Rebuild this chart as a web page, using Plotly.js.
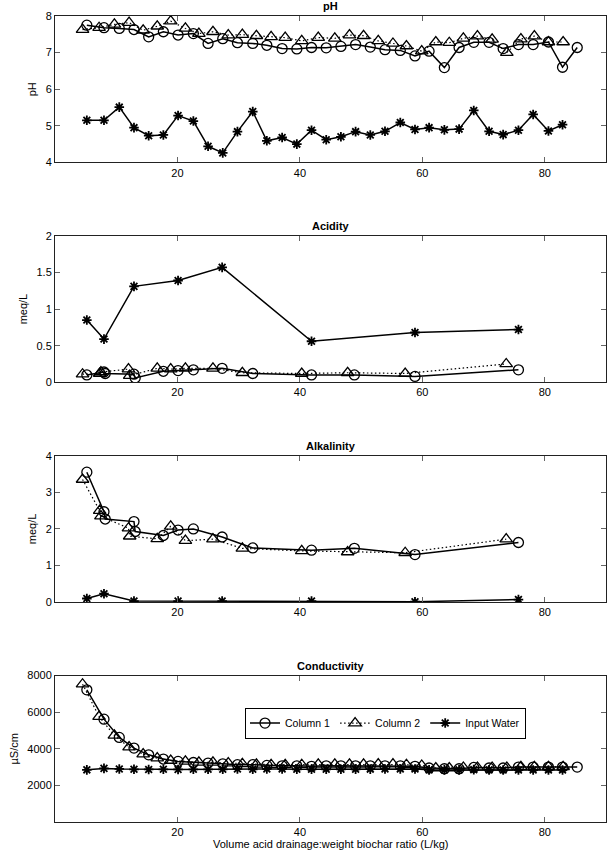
<!DOCTYPE html>
<html><head><meta charset="utf-8">
<script src="https://cdn.plot.ly/plotly-3.0.1.min.js"></script>
<style>html,body{margin:0;padding:0;background:#fff}#chart{width:608px;height:852px}</style>
</head><body><div id="chart"></div>
<script>
// ---- pH panel ----
const phX1 = [5.2, 8.0, 10.5, 12.9, 15.3, 17.7, 20.1, 22.6, 25.0, 27.4, 29.8, 32.3, 34.6, 37.1, 39.5, 41.9, 44.3, 46.7, 49.1, 51.5, 53.9, 56.4, 58.8, 61.1, 63.6, 66.0, 68.4, 70.9, 73.2, 75.7, 78.1, 80.6, 82.9, 85.3];
const phY1 = [7.75, 7.68, 7.66, 7.63, 7.43, 7.57, 7.48, 7.52, 7.25, 7.38, 7.27, 7.25, 7.20, 7.11, 7.10, 7.14, 7.13, 7.17, 7.22, 7.15, 7.08, 7.06, 6.91, 7.04, 6.59, 7.14, 7.28, 7.28, 7.11, 7.22, 7.22, 7.29, 6.60, 7.14];
const phX2 = [4.5, 7.2, 9.7, 12.1, 14.4, 16.7, 18.9, 21.3, 23.5, 25.8, 28.3, 30.6, 32.9, 35.3, 37.6, 40.3, 43.0, 45.7, 48.1, 50.4, 52.8, 55.2, 57.4, 59.9, 62.2, 64.4, 66.7, 69.0, 71.4, 73.8, 76.1, 78.3, 80.6, 83.0];
const phY2 = [7.63, 7.68, 7.77, 7.82, 7.61, 7.72, 7.86, 7.66, 7.52, 7.57, 7.48, 7.49, 7.46, 7.43, 7.41, 7.32, 7.41, 7.39, 7.48, 7.46, 7.32, 7.25, 7.18, 7.04, 7.29, 7.27, 7.39, 7.45, 7.36, 7.00, 7.37, 7.45, 7.29, 7.29];
const phX3 = [5.2, 8.0, 10.5, 12.9, 15.3, 17.7, 20.1, 22.6, 25.0, 27.4, 29.8, 32.3, 34.6, 37.1, 39.5, 41.9, 44.3, 46.7, 49.1, 51.5, 53.9, 56.4, 58.8, 61.1, 63.6, 66.0, 68.4, 70.9, 73.2, 75.7, 78.1, 80.6, 82.9];
const phY3 = [5.15, 5.15, 5.51, 4.95, 4.73, 4.75, 5.28, 5.13, 4.44, 4.26, 4.84, 5.39, 4.59, 4.68, 4.50, 4.88, 4.62, 4.70, 4.84, 4.75, 4.85, 5.09, 4.90, 4.95, 4.89, 4.91, 5.42, 4.85, 4.76, 4.88, 5.31, 4.86, 5.03];

// ---- Acidity / Alkalinity sampling points ----
const chemX1 = [5.2, 8.0, 8.2, 12.9, 13.1, 17.7, 20.1, 22.6, 27.3, 32.3, 41.9, 48.9, 58.8, 75.7];
const chemX2 = [4.5, 7.3, 7.5, 12.0, 12.2, 16.7, 18.9, 21.3, 25.8, 30.6, 40.3, 47.8, 57.2, 73.7];
const chemX3 = [5.2, 8.0, 12.9, 20.1, 27.3, 41.9, 58.8, 75.7];

const acidY1 = [0.10, 0.14, 0.12, 0.11, 0.06, 0.15, 0.16, 0.17, 0.19, 0.12, 0.10, 0.10, 0.08, 0.17];
const acidY2 = [0.11, 0.12, 0.14, 0.18, 0.09, 0.19, 0.18, 0.19, 0.19, 0.13, 0.12, 0.13, 0.12, 0.25];
const acidY3 = [0.85, 0.59, 1.31, 1.39, 1.57, 0.56, 0.68, 0.72];

const alkY1 = [3.55, 2.47, 2.27, 2.20, 1.93, 1.82, 1.97, 2.00, 1.78, 1.48, 1.42, 1.47, 1.30, 1.63];
const alkY2 = [3.35, 2.50, 2.35, 2.02, 1.80, 1.73, 2.07, 1.68, 1.72, 1.47, 1.40, 1.37, 1.35, 1.72];
const alkY3 = [0.10, 0.23, 0.03, 0.03, 0.03, 0.03, 0.01, 0.07];

// ---- Conductivity (same x as pH) ----
const condY1 = [7220, 5620, 4620, 4040, 3670, 3440, 3310, 3250, 3220, 3180, 3130, 3130, 3090, 3070, 3070, 3040, 3070, 3070, 3070, 3070, 3070, 3070, 3040, 2950, 2910, 2910, 2980, 2950, 2950, 3000, 3000, 3000, 3000, 3000];
const condY2 = [7530, 5760, 4730, 4090, 3710, 3490, 3360, 3310, 3260, 3260, 3220, 3180, 3150, 3130, 3130, 3130, 3150, 3150, 3150, 3150, 3160, 3160, 3130, 3090, 2950, 2950, 2980, 2980, 2980, 2980, 3020, 3020, 3020, 3020];
const condY3 = [2850, 2930, 2900, 2880, 2870, 2880, 2870, 2880, 2880, 2880, 2900, 2880, 2900, 2900, 2880, 2880, 2880, 2880, 2880, 2890, 2900, 2900, 2900, 2850, 2850, 2850, 2860, 2850, 2840, 2840, 2840, 2840, 2840];

const seriesNames = ['Column 1', 'Column 2', 'Input Water'];
const panelTitles = ['pH', 'Acidity', 'Alkalinity', 'Conductivity'];
const yTitles = ['pH', 'meq/L', 'meq/L', 'µS/cm'];
const xTicks = [20, 40, 60, 80];
const yTicks = [[4, 5, 6, 7, 8], [0, 0.5, 1, 1.5, 2], [0, 1, 2, 3, 4], [2000, 4000, 6000, 8000]];
const yRanges = [[4, 8], [0, 2], [0, 4], [0, 8000]];

const FONT = 'Liberation Sans, Arial, Helvetica, sans-serif';
const styles = [
  {sym: 'circle-open', dash: 'solid', w: 1.5, size: 10, mw: 1.3},
  {sym: 'triangle-up-open', dash: '1.5px,2.5px', w: 1.2, size: 11, mw: 1.3},
  {sym: 'asterisk-open', dash: 'solid', w: 1.5, size: 8, mw: 1.8}
];
function tr(x, y, s, panel) {
  const st = styles[s];
  const ax = panel === 0 ? '' : String(panel + 1);
  return {
    x: x, y: y, type: 'scatter', mode: 'lines+markers',
    name: seriesNames[s], showlegend: panel === 3, legendgroup: 'g' + s,
    xaxis: 'x' + ax, yaxis: 'y' + ax,
    line: {color: '#000', width: st.w, dash: st.dash},
    marker: {symbol: st.sym, size: st.size, color: '#000', line: {color: '#000', width: st.mw}}
  };
}
const data = [
  tr(phX1, phY1, 0, 0), tr(phX2, phY2, 1, 0), tr(phX3, phY3, 2, 0),
  tr(chemX1, acidY1, 0, 1), tr(chemX2, acidY2, 1, 1), tr(chemX3, acidY3, 2, 1),
  tr(chemX1, alkY1, 0, 2), tr(chemX2, alkY2, 1, 2), tr(chemX3, alkY3, 2, 2),
  tr(phX1, condY1, 0, 3), tr(phX2, condY2, 1, 3), tr(phX3, condY3, 2, 3)
];

const T = 16, B = 29.5, H = 852;
const plotH = H - T - B;
const tops = [16, 236, 456, 676];
const panelH = 146.5;
function frac(pix) { return (H - B - pix) / plotH; }

const layout = {
  width: 608, height: 852,
  margin: {l: 55, r: 2, t: T, b: B},
  paper_bgcolor: '#fff', plot_bgcolor: '#fff',
  font: {family: FONT, size: 11, color: '#000'},
  showlegend: true,
  legend: {
    orientation: 'h', x: (245 - 55) / 551, y: frac(708), xanchor: 'left', yanchor: 'top',
    bordercolor: '#000', borderwidth: 1, bgcolor: '#fff',
    font: {family: FONT, size: 10.5, color: '#000'},
    itemwidth: 30, tracegroupgap: 0
  },
  annotations: []
};
for (let i = 0; i < 4; i++) {
  const ax = i === 0 ? '' : String(i + 1);
  const dom = [frac(tops[i] + panelH), frac(tops[i])];
  layout['xaxis' + ax] = {
    domain: [0, 1], anchor: 'y' + ax, range: [0, 90],
    tickvals: xTicks, ticktext: xTicks.map(String),
    ticks: 'inside', ticklen: 5, tickcolor: '#666', tickwidth: 1,
    showline: true, linecolor: '#222', linewidth: 1, mirror: 'ticks',
    showgrid: false, zeroline: false,
    tickfont: {family: FONT, size: 11, color: '#000'}
  };
  layout['yaxis' + ax] = {
    domain: dom, anchor: 'x' + ax, range: yRanges[i],
    tickvals: yTicks[i], ticktext: yTicks[i].map(String),
    ticks: 'inside', ticklen: 5, tickcolor: '#666', tickwidth: 1,
    showline: true, linecolor: '#222', linewidth: 1, mirror: 'ticks',
    showgrid: false, zeroline: false,
    tickfont: {family: FONT, size: 11, color: '#000'},
    title: {text: yTitles[i], font: {family: FONT, size: 11, color: '#000'}, standoff: 6}
  };
  layout.annotations.push({
    text: '<b>' + panelTitles[i] + '</b>', xref: 'paper', yref: 'paper',
    x: 0.5, y: frac(tops[i] - 10), xanchor: 'center', yanchor: 'middle',
    showarrow: false, font: {family: FONT, size: 11, color: '#000'}
  });
}
layout.annotations.push({
  text: 'Volume acid drainage:weight biochar ratio (L/kg)', xref: 'paper', yref: 'paper',
  x: 0.5, y: frac(845), xanchor: 'center', yanchor: 'middle',
  showarrow: false, font: {family: FONT, size: 11, color: '#000'}
});

Plotly.newPlot('chart', data, layout, {displayModeBar: false, staticPlot: true});
</script>
</body></html>
